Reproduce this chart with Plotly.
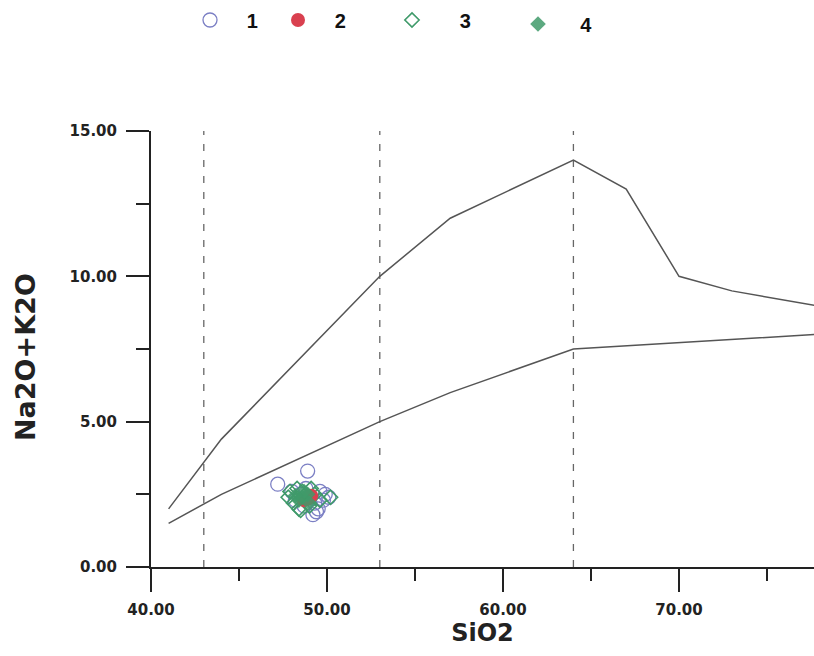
import plotly.graph_objects as go

# ---- data ----
upper_x = [41, 44, 53, 57, 64, 67, 70, 73, 77.7]
upper_y = [2.0, 4.4, 10.0, 12.0, 14.0, 13.0, 10.0, 9.5, 9.0]
lower_x = [41, 44, 53, 57, 64, 77.7]
lower_y = [1.5, 2.5, 5.0, 6.0, 7.5, 8.0]
dash_x = [43, 53, 64]

s1_x = [47.2, 48.9, 48.0, 48.5, 49.0, 49.3, 49.5, 49.2, 48.7, 49.8, 50.1, 48.2, 49.6, 48.8, 49.4, 49.9]
s1_y = [2.85, 3.3, 2.6, 2.5, 2.4, 2.2, 2.0, 1.8, 2.1, 2.3, 2.4, 2.3, 2.6, 2.7, 1.9, 2.5]
s2_x = [48.9, 49.1, 48.7]
s2_y = [2.35, 2.45, 2.3]
s3_x = [47.8, 48.1, 48.4, 48.6, 49.0, 49.6, 50.2, 48.3, 49.3, 47.9, 48.5, 49.1]
s3_y = [2.4, 2.2, 2.0, 2.6, 2.1, 2.3, 2.4, 2.7, 2.5, 2.6, 1.95, 2.7]
s4_x = [48.6, 48.9, 48.4, 49.0, 48.7, 48.2]
s4_y = [2.4, 2.5, 2.3, 2.2, 2.6, 2.45]

x_ticks = [40, 50, 60, 70]
y_ticks = [0, 5, 10, 15]
y_title = "Na2O+K2O"
x_title = "SiO2"

fig = go.Figure()

# dashed verticals
vx, vy = [], []
for d in dash_x:
    vx += [d, d, None]
    vy += [0, 15, None]
fig.add_trace(go.Scatter(x=vx, y=vy, mode="lines", showlegend=False,
                         line=dict(color="#666", width=1.3, dash="7px,9px"), hoverinfo="skip"))
fig.add_trace(go.Scatter(x=upper_x, y=upper_y, mode="lines", showlegend=False,
                         line=dict(color="#555", width=1.5), hoverinfo="skip"))
fig.add_trace(go.Scatter(x=lower_x, y=lower_y, mode="lines", showlegend=False,
                         line=dict(color="#555", width=1.5), hoverinfo="skip"))

sp = "\u00a0"
fig.add_trace(go.Scatter(x=s1_x, y=s1_y, mode="markers", name=sp * 3 + "1", legend="legend",
                         marker=dict(symbol="circle-open", size=14, color="#7b7fc4",
                                     line=dict(width=1.3))))
fig.add_trace(go.Scatter(x=s3_x, y=s3_y, mode="markers", name=sp * 5 + "3", legend="legend3",
                         marker=dict(symbol="diamond-open", size=11, color="#3f9a6a",
                                     line=dict(width=1.6))))
fig.add_trace(go.Scatter(x=s2_x, y=s2_y, mode="markers", name=sp * 3 + "2", legend="legend2",
                         marker=dict(symbol="circle", size=14, color="#d9404f")))
fig.add_trace(go.Scatter(x=s4_x, y=s4_y, mode="markers", name=sp * 4 + "4", legend="legend4",
                         marker=dict(symbol="diamond", size=12, color="#3f9a6a", opacity=0.85)))

W, H = 814, 656
lfont = dict(family="Liberation Sans", size=20, color="#111", weight="bold")
def leg(xpx, ypx):
    return dict(x=xpx / W, y=1 - ypx / H, xref="container", yref="container",
                xanchor="left", yanchor="middle", font=lfont, bgcolor="rgba(0,0,0,0)",
                borderwidth=0, itemwidth=30)

fig.update_layout(
    width=W, height=H,
    margin=dict(l=151, r=0, t=131, b=89, autoexpand=False),
    paper_bgcolor="white", plot_bgcolor="white",
    showlegend=True,
    legend=leg(190, 20),
    legend2=leg(278, 20),
    legend3=leg(392, 20),
    legend4=leg(518, 24),
    xaxis=dict(range=[40, 77.67], tickvals=x_ticks, ticktext=[f"{v:.2f}" for v in x_ticks],
               showgrid=False, zeroline=False, showline=True, linecolor="#222", linewidth=2,
               ticks="outside", ticklen=23, tickwidth=2, tickcolor="#222", tickangle=0,
               minor=dict(dtick=5, tick0=40, ticks="outside", ticklen=12, tickwidth=2, tickcolor="#222"),
               tickfont=dict(family="DejaVu Sans", size=15, color="#222", weight="bold"),
               ticklabelstandoff=5, automargin=True,
               title=dict(text=x_title, standoff=6,
                          font=dict(family="DejaVu Sans", size=24, color="#222", weight="bold"))),
    yaxis=dict(range=[0, 15], tickvals=y_ticks, ticktext=[f"{v:.2f}" for v in y_ticks],
               showgrid=False, zeroline=False, showline=True, linecolor="#222", linewidth=2,
               ticks="outside", ticklen=23, tickwidth=2, tickcolor="#222",
               minor=dict(dtick=2.5, tick0=0, ticks="outside", ticklen=13, tickwidth=2, tickcolor="#222"),
               tickfont=dict(family="DejaVu Sans", size=15, color="#222", weight="bold"),
               ticklabelstandoff=6, automargin=True),
    annotations=[dict(text=y_title, textangle=-90, xref="paper", yref="paper",
                      x=(25 - 151) / 663, y=(567 - 357) / 436, xanchor="center", yanchor="middle",
                      showarrow=False,
                      font=dict(family="DejaVu Sans", size=27, color="#222", weight="bold"))],
)

fig.write_html("out.html")
